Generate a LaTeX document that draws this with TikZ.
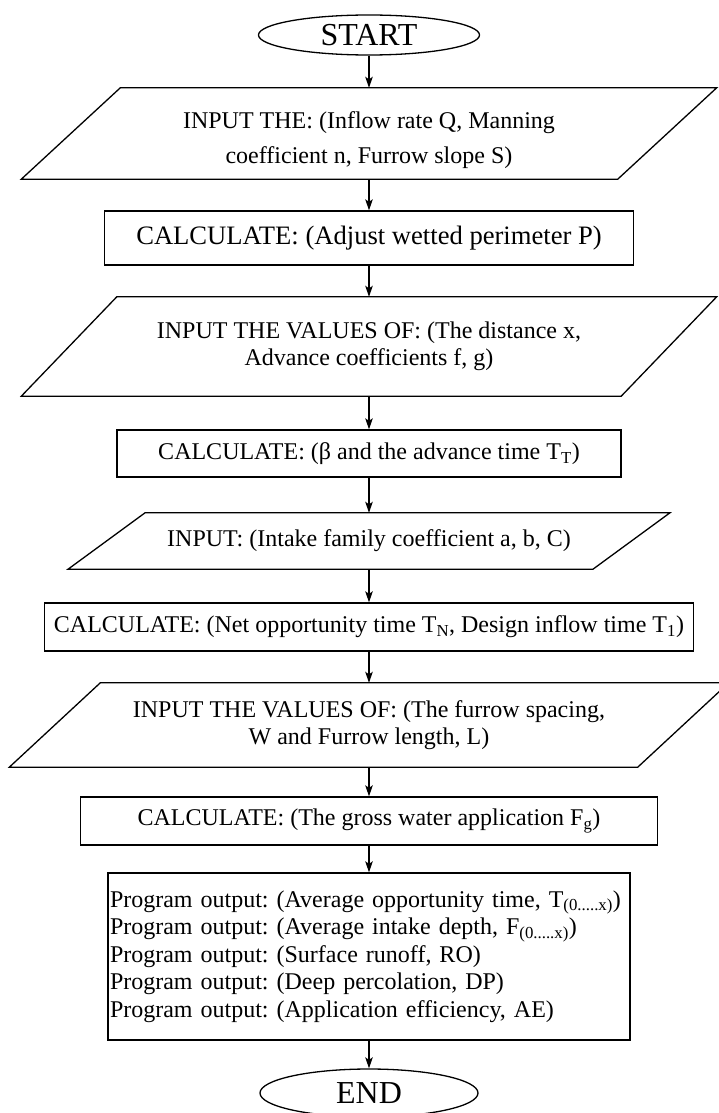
\documentclass[tikz,border=0pt]{standalone}
\usepackage{fontspec}
\setmainfont{Liberation Serif}
\usetikzlibrary{arrows.meta,shapes.geometric}
\frenchspacing
\begin{document}
\begin{tikzpicture}[x=1pt,y=-1pt,
  txt/.style={inner sep=0pt, align=center, font=\fontsize{24}{27.5}\selectfont},
  procbox/.style={txt, draw, line width=1.3pt},
  ioshape/.style={txt},
  term/.style={draw, ellipse, inner sep=0pt, line width=1.3pt, font=\fontsize{32}{38}\selectfont},
  ioline/.style={line width=1.3pt, line join=miter},
  flow/.style={-{Stealth[length=11pt,width=7.5pt,inset=2.5pt]}, line width=1.3pt}
]
\clip (0,0) rectangle (719,1113);

\node[term, minimum width=221pt, minimum height=40pt] (start) at (369,35) {START};

\node[ioshape, minimum width=596pt, minimum height=91pt, font=\fontsize{24}{35}\selectfont] (in1) at (369,133.5)
  {\raisebox{-5pt}[\height][\depth]{\begin{tabular}{@{}c@{}}INPUT THE: (Inflow rate Q, Manning\\coefficient n, Furrow slope S)\end{tabular}}};
\draw[ioline] ([xshift=49.5pt]in1.north west) -- ([xshift=49.5pt]in1.north east) -- ([xshift=-49.5pt]in1.south east) -- ([xshift=-49.5pt]in1.south west) -- cycle;

\node[procbox, minimum width=529pt, minimum height=54pt, font=\fontsize{26.6}{30}\selectfont] (c1) at (369,238)
  {CALCULATE: (Adjust wetted perimeter P)};

\node[ioshape, minimum width=599.5pt, minimum height=99pt] (in2) at (369,346.5)
  {INPUT THE VALUES OF: (The distance x,\\Advance coefficients f, g)};
\draw[ioline] ([xshift=47.75pt]in2.north west) -- ([xshift=47.75pt]in2.north east) -- ([xshift=-47.75pt]in2.south east) -- ([xshift=-47.75pt]in2.south west) -- cycle;

\node[procbox, minimum width=504pt, minimum height=47pt] (c2) at (369,453.5)
  {CALCULATE: (β and the advance time T\textsubscript{T})};

\node[ioshape, minimum width=524.5pt, minimum height=56pt] (in3) at (369,541)
  {INPUT: (Intake family coefficient a, b, C)};
\draw[ioline] ([xshift=38.5pt]in3.north west) -- ([xshift=38.5pt]in3.north east) -- ([xshift=-38.5pt]in3.south east) -- ([xshift=-38.5pt]in3.south west) -- cycle;

\node[procbox, minimum width=649pt, minimum height=48pt] (c3) at (369,627)
  {CALCULATE: (Net opportunity time T\textsubscript{N}, Design inflow time T\textsubscript{1})};

\node[ioshape, minimum width=628pt, minimum height=84pt] (in4) at (369,725)
  {INPUT THE VALUES OF: (The furrow spacing,\\W and Furrow length, L)};
\draw[ioline] ([xshift=45.5pt]in4.north west) -- ([xshift=45.5pt]in4.north east) -- ([xshift=-45.5pt]in4.south east) -- ([xshift=-45.5pt]in4.south west) -- cycle;

\node[procbox, minimum width=577pt, minimum height=48pt] (c4) at (369,821)
  {CALCULATE: (The gross water application F\textsubscript{g})};

\node[procbox, align=left, inner xsep=2pt, text width=518pt, minimum height=167pt] (out) at (369,956.5)
  {Program output: (Average opportunity time, T\textsubscript{(0.....x)})\\
   Program output: (Average intake depth, F\textsubscript{(0.....x)})\\
   Program output: (Surface runoff, RO)\\
   Program output: (Deep percolation, DP)\\
   Program output: (Application efficiency, AE)};

\node[term, minimum width=218pt, minimum height=48pt] (end) at (369,1093) {END};

\draw[flow] (start.south) -- (in1.north);
\draw[flow] (in1.south) -- (c1.north);
\draw[flow] (c1.south) -- (in2.north);
\draw[flow] (in2.south) -- (c2.north);
\draw[flow] (c2.south) -- (in3.north);
\draw[flow] (in3.south) -- (c3.north);
\draw[flow] (c3.south) -- (in4.north);
\draw[flow] (in4.south) -- (c4.north);
\draw[flow] (c4.south) -- (out.north);
\draw[flow] (out.south) -- (end.north);
\end{tikzpicture}
\end{document}
